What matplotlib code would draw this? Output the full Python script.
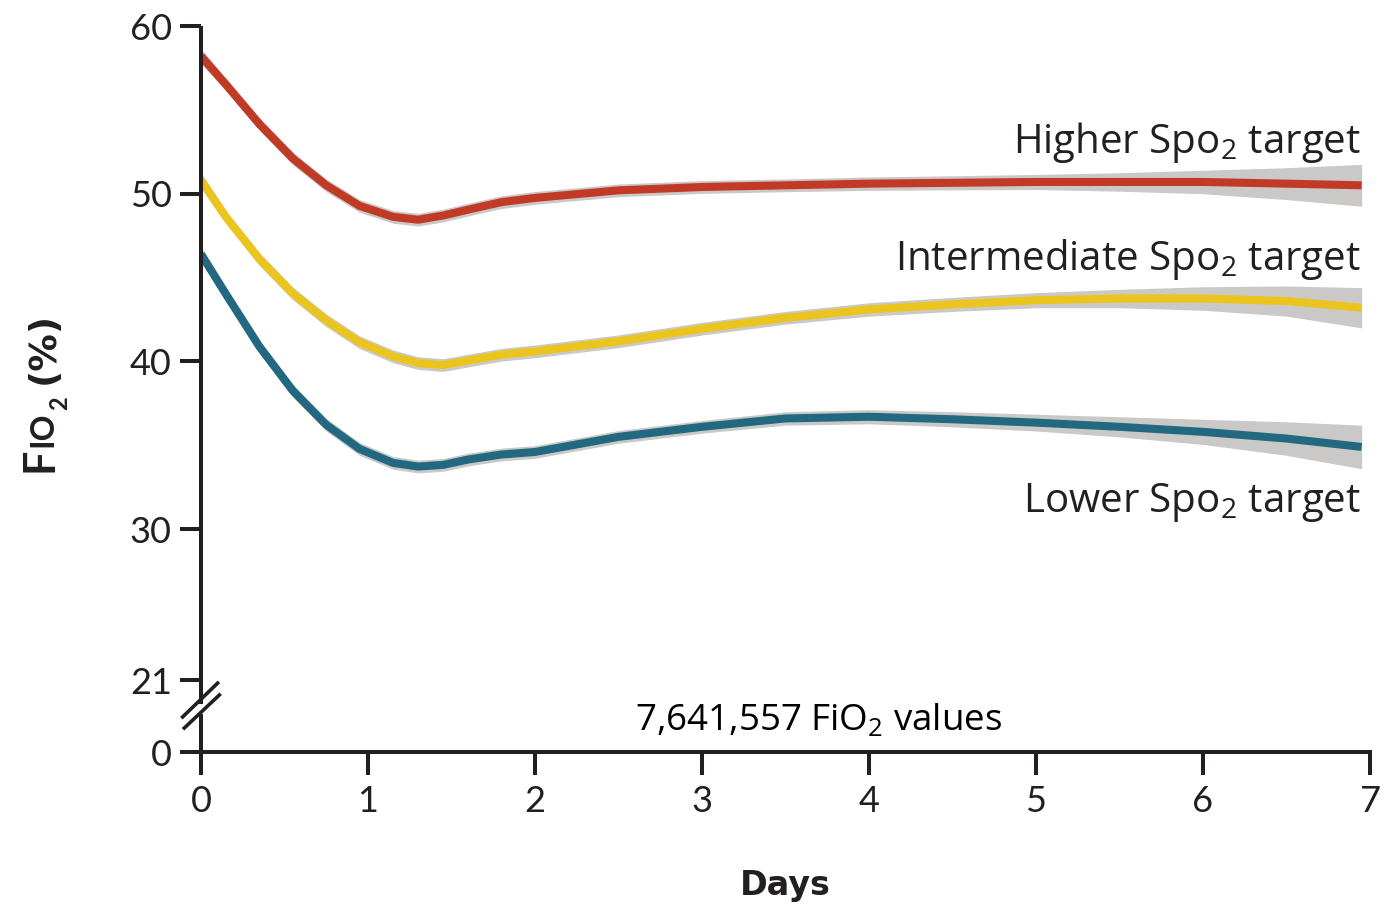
import numpy as np
import matplotlib.pyplot as plt

# values (FiO2 %, by day)
days = [0, 0.15, 0.35, 0.55, 0.75, 0.95, 1.15, 1.3, 1.45, 1.6, 1.8, 2.0, 2.5, 3.0, 3.5, 4.0, 4.5, 5.0, 5.5, 6.0, 6.5, 6.95]
higher = [58.2, 56.5, 54.15, 52.1, 50.5, 49.27, 48.62, 48.45, 48.7, 49.05, 49.5, 49.75, 50.2, 50.4, 50.5, 50.6, 50.65, 50.7, 50.7, 50.7, 50.6, 50.5]
intermediate = [50.8, 48.6, 46.1, 44.05, 42.45, 41.14, 40.3, 39.9, 39.78, 40.05, 40.4, 40.6, 41.2, 41.95, 42.6, 43.1, 43.4, 43.65, 43.75, 43.75, 43.6, 43.2]
lower = [46.4, 44.0, 40.88, 38.25, 36.22, 34.78, 33.95, 33.73, 33.83, 34.15, 34.45, 34.6, 35.5, 36.1, 36.6, 36.7, 36.55, 36.35, 36.1, 35.8, 35.4, 34.9]

# half width of the grey confidence band
higher_ci = [0.45, 0.38, 0.38, 0.38, 0.38, 0.38, 0.38, 0.38, 0.38, 0.38, 0.38, 0.38, 0.38, 0.38, 0.38, 0.4, 0.42, 0.45, 0.55, 0.7, 0.95, 1.25]
intermediate_ci = [0.45, 0.38, 0.38, 0.38, 0.38, 0.38, 0.38, 0.38, 0.38, 0.38, 0.38, 0.38, 0.38, 0.38, 0.38, 0.4, 0.42, 0.45, 0.55, 0.7, 0.9, 1.2]
lower_ci = [0.45, 0.38, 0.38, 0.38, 0.38, 0.38, 0.38, 0.38, 0.38, 0.38, 0.38, 0.38, 0.38, 0.38, 0.4, 0.42, 0.45, 0.5, 0.6, 0.75, 1.0, 1.3]

labels = ["Higher Spo$\\mathregular{_2}$ target",
          "Intermediate Spo$\\mathregular{_2}$ target",
          "Lower Spo$\\mathregular{_2}$ target"]
label_y = [52.4, 45.45, 31.0]
colors = ["#c13a26", "#ebc41e", "#226880"]

y_ticks = [21, 30, 40, 50, 60]
x_ticks = [0, 1, 2, 3, 4, 5, 6, 7]
Y_ZERO = 16.71   # where "0" sits below the axis break

INK = "#231f20"
GREY = "#cbc9c8"

fig = plt.figure(figsize=(13.84, 9.05), dpi=100)
ax = fig.add_axes([201/1384, 153/905, 1169/1384, 726/905])
ax.set_xlim(0, 7)
ax.set_ylim(Y_ZERO, 60)

for vals, ci, col in zip([higher, intermediate, lower], [higher_ci, intermediate_ci, lower_ci], colors):
    v = np.array(vals)
    c = np.array(ci)
    ax.fill_between(days, v - c, v + c, color=GREY, lw=0, zorder=2)
    ax.plot(days, v, color=col, lw=5.8, zorder=3, solid_joinstyle='round', solid_capstyle='butt')

for lab, ly in zip(labels, label_y):
    ax.text(6.946, ly, lab, ha='right', va='baseline', fontsize=29,
            family='Open Sans', color=INK)

ax.text(3.70, 18.0, "7,641,557 FiO$\\mathregular{_2}$ values", ha='center', va='baseline',
        fontsize=26.5, family='Open Sans', color='black')

# axes
for s in ['top', 'right', 'left']:
    ax.spines[s].set_visible(False)
ax.spines['bottom'].set_linewidth(2.9)
ax.spines['bottom'].set_color(INK)

# left spine drawn in two pieces around the break
ax.plot([0, 0], [19.6, 60], color=INK, lw=2.9, clip_on=False, solid_capstyle='butt', zorder=4)
ax.plot([0, 0], [Y_ZERO, 18.95], color=INK, lw=2.9, clip_on=False, solid_capstyle='butt', zorder=4)
ax.plot([-0.11, 0.10], [18.80, 20.82], color=INK, lw=2.6, clip_on=False, zorder=4)
ax.plot([-0.10, 0.11], [18.14, 20.11], color=INK, lw=2.6, clip_on=False, zorder=4)

ax.set_yticks([Y_ZERO] + y_ticks)
ax.set_yticklabels(['0'] + [str(t) for t in y_ticks])
ax.set_xticks(x_ticks)
ax.set_xticklabels([str(t) for t in x_ticks])
ax.tick_params(axis='y', length=15, width=2.9, color=INK, pad=6, labelsize=26, labelcolor=INK)
ax.tick_params(axis='x', length=16.5, width=2.9, color=INK, pad=7, labelsize=26, labelcolor=INK)
for t in ax.get_xticklabels() + ax.get_yticklabels():
    t.set_family('Lato')

fig.text(785/1384, 1 - 895/905, "Days", ha='center', va='baseline', fontsize=24,
         weight='bold', family='DejaVu Sans', color=INK)

# y label "FIO2 (%)" with small caps, built piece by piece bottom-up
renderer = fig.canvas.get_renderer()
ypix = 905 - 472
pieces = [("F", 31, 52, 1, 'Lato'), ("IO", 23, 52, 1, 'Lato'), ("2", 17, 67, 12, 'Lato'),
          ("(%)", 27, 54, 0, 'DejaVu Sans')]
for txt, size, xpix, gap, fam in pieces:
    t = fig.text(xpix/1384, ypix/905, txt, rotation=90, rotation_mode='anchor',
                 ha='left', va='baseline', fontsize=size, weight='bold', family=fam, color=INK)
    ypix += t.get_window_extent(renderer).height + gap

fig.savefig("out.png", dpi=100)
